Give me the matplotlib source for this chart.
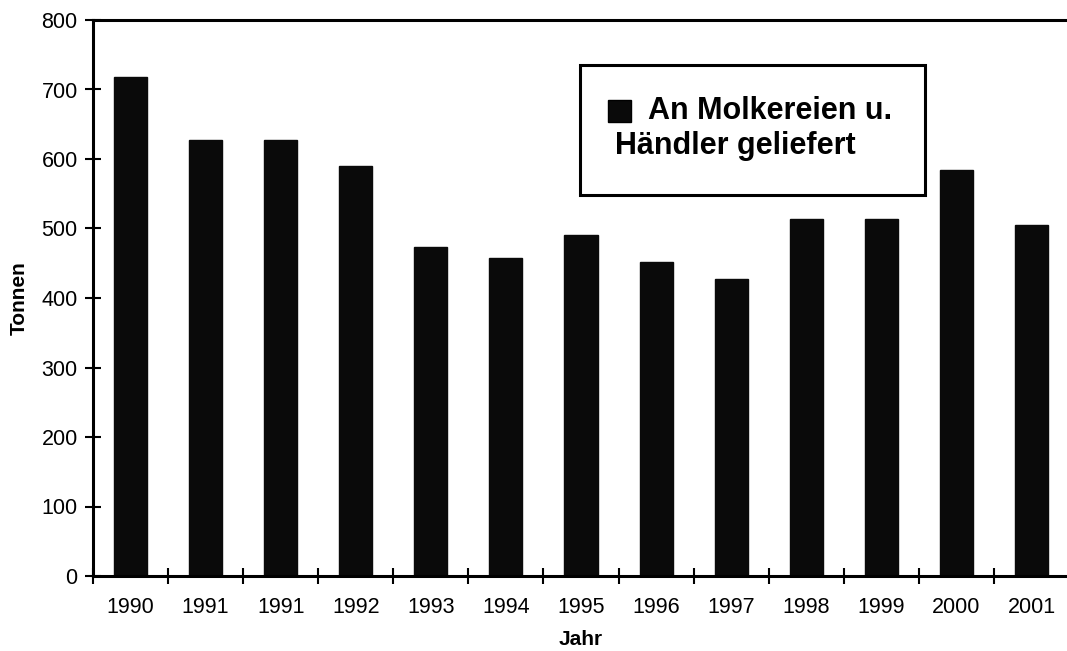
import matplotlib
matplotlib.use("Agg")
import matplotlib.pyplot as plt
from matplotlib.patches import Rectangle

plt.rcParams['font.family'] = ['Liberation Sans', 'DejaVu Sans']

# Milchlieferungen pro Jahr (Tonnen)
jahre = ['1990', '1991', '1991', '1992', '1993', '1994', '1995',
         '1996', '1997', '1998', '1999', '2000', '2001']
tonnen = [718, 628, 628, 590, 473, 458, 491, 452, 427, 513, 513, 584, 505]
legende = ['An Molkereien u.', 'Händler geliefert']

W, H = 1067, 651
fig = plt.figure(figsize=(W / 100, H / 100), dpi=100)
ax = fig.add_axes([93 / W, 1 - 576 / H, 976 / W, 556 / H])

x = list(range(len(jahre)))
ax.bar(x, tonnen, width=0.44, color='#0a0a0a', edgecolor='#0a0a0a')

ax.set_xlim(-0.5, len(jahre) - 0.5)
ax.set_ylim(0, 800)
ax.set_yticks(range(0, 801, 100))
ax.tick_params(axis='y', direction='inout', length=12, width=1.5, pad=5, labelsize=15.5)

# Jahresbeschriftung mittig, Teilstriche an den Kategoriegrenzen
ax.set_xticks(x)
ax.set_xticklabels(jahre)
ax.set_xticks([i - 0.5 for i in range(len(jahre) + 1)], minor=True)
ax.tick_params(axis='x', which='major', length=0, pad=15, labelsize=15.5)
ax.tick_params(axis='x', which='minor', direction='inout', length=12, width=1.5)

for side in ['left', 'bottom', 'top']:
    ax.spines[side].set_linewidth(2.2)
ax.spines['right'].set_visible(False)

ax.set_ylabel('Tonnen', fontsize=15, fontweight='bold', labelpad=9)
ax.set_xlabel('Jahr', fontsize=15, fontweight='bold', labelpad=9)

# Legendenkasten
def px(xp, yp):
    return xp / W, 1 - yp / H

fig.patches.append(Rectangle(px(580, 195), 345 / W, 130 / H, transform=fig.transFigure,
                             facecolor='white', edgecolor='black', linewidth=2.2, zorder=5))
fig.patches.append(Rectangle(px(608, 122), 23 / W, 22 / H, transform=fig.transFigure,
                             facecolor='#0a0a0a', edgecolor='black', linewidth=1, zorder=6))
fig.text(*px(648, 119), legende[0], fontsize=22, fontweight='bold', va='baseline', zorder=6)
fig.text(*px(615, 154), legende[1], fontsize=22, fontweight='bold', va='baseline', zorder=6)

fig.savefig('out.png', dpi=100)
